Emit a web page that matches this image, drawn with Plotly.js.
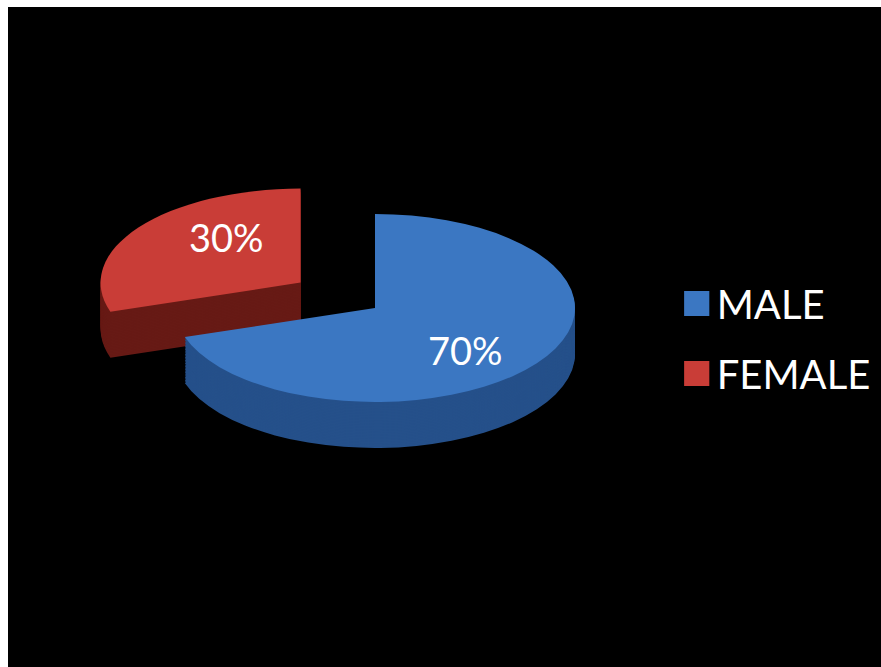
<!DOCTYPE html>
<html><head><meta charset="utf-8">
<script src="https://cdn.plot.ly/plotly-3.0.1.min.js"></script>
<style>
html,body{margin:0;padding:0;background:#ffffff;overflow:hidden;}
#chart{position:absolute;left:8px;top:7px;width:873px;height:660px;}
</style>
</head><body><div id="chart"></div>
<script>
// ---- data ----
const labels = ['MALE', 'FEMALE'];
const values = [70, 30];
const percentText = ['70%', '30%'];

// ---- styles / geometry ----
const topColors = ['#3b77c2', '#c93d37'];
const sideColors = ['#25508a', '#671a15'];
const pulls = [0, 0.46];
const W = 873, H = 660;
const cx = 367, cy = 301, R = 200, tilt = 0.47, depth = 46, nLayers = 30;
const legendExtraGap = 15;
const half = R * (1 + Math.max(...pulls));
const domain = {
  x: [(cx - half) / W, (cx + half) / W],
  y: [1 - (cy + half) / H, 1 - (cy - half) / H]
};

function pieTrace(colors, showLegend) {
  return {
    type: 'pie', labels: labels, values: values, sort: false,
    direction: 'clockwise', rotation: 0, pull: pulls,
    marker: {colors: colors, line: {width: 0}},
    textinfo: 'none', hoverinfo: 'skip', showlegend: showLegend,
    domain: domain
  };
}
const traces = [];
for (let i = 0; i < nLayers; i++) traces.push(pieTrace(sideColors, false));
traces.push(pieTrace(topColors, true));

const layout = {
  width: W, height: H,
  margin: {l: 0, r: 0, t: 0, b: 0},
  paper_bgcolor: '#000000',
  showlegend: true,
  legend: {
    x: 0.766, xanchor: 'left', y: 0.6, yanchor: 'top',
    font: {family: 'Lato, sans-serif', size: 40, color: '#ffffff'},
    bgcolor: 'rgba(0,0,0,0)', itemclick: false, itemdoubleclick: false
  },
  annotations: [
    {text: percentText[0], xref: 'paper', yref: 'paper', x: 0.5235, y: 0.48,
     showarrow: false, font: {family: 'Lato, sans-serif', size: 38, color: '#ffffff'}},
    {text: percentText[1], xref: 'paper', yref: 'paper', x: 0.2055, y: 0.652,
     showarrow: false, font: {family: 'Lato, sans-serif', size: 38, color: '#ffffff'}}
  ]
};

Plotly.newPlot('chart', traces, layout, {displayModeBar: false, staticPlot: true}).then(function (gd) {
  const groups = gd.querySelectorAll('.pielayer g.trace');
  groups.forEach(function (g, i) {
    let off = 0;
    if (i < nLayers) off = depth * (1 - i / nLayers);
    g.setAttribute('transform', 'translate(0,' + (cy * (1 - tilt) + off) + ') scale(1,' + tilt + ')');
  });
  // enlarge legend swatches
  gd.querySelectorAll('.legend .legendpoints path').forEach(function (p) {
    const t = p.getAttribute('transform') || '';
    p.setAttribute('transform', t + ' scale(2.1)');
  });
  // widen the gap between legend entries
  gd.querySelectorAll('.legend g.traces').forEach(function (g, k) {
    const t = g.getAttribute('transform') || '';
    g.setAttribute('transform', t + ' translate(0,' + (k * legendExtraGap) + ')');
  });
});
</script>
</body></html>
